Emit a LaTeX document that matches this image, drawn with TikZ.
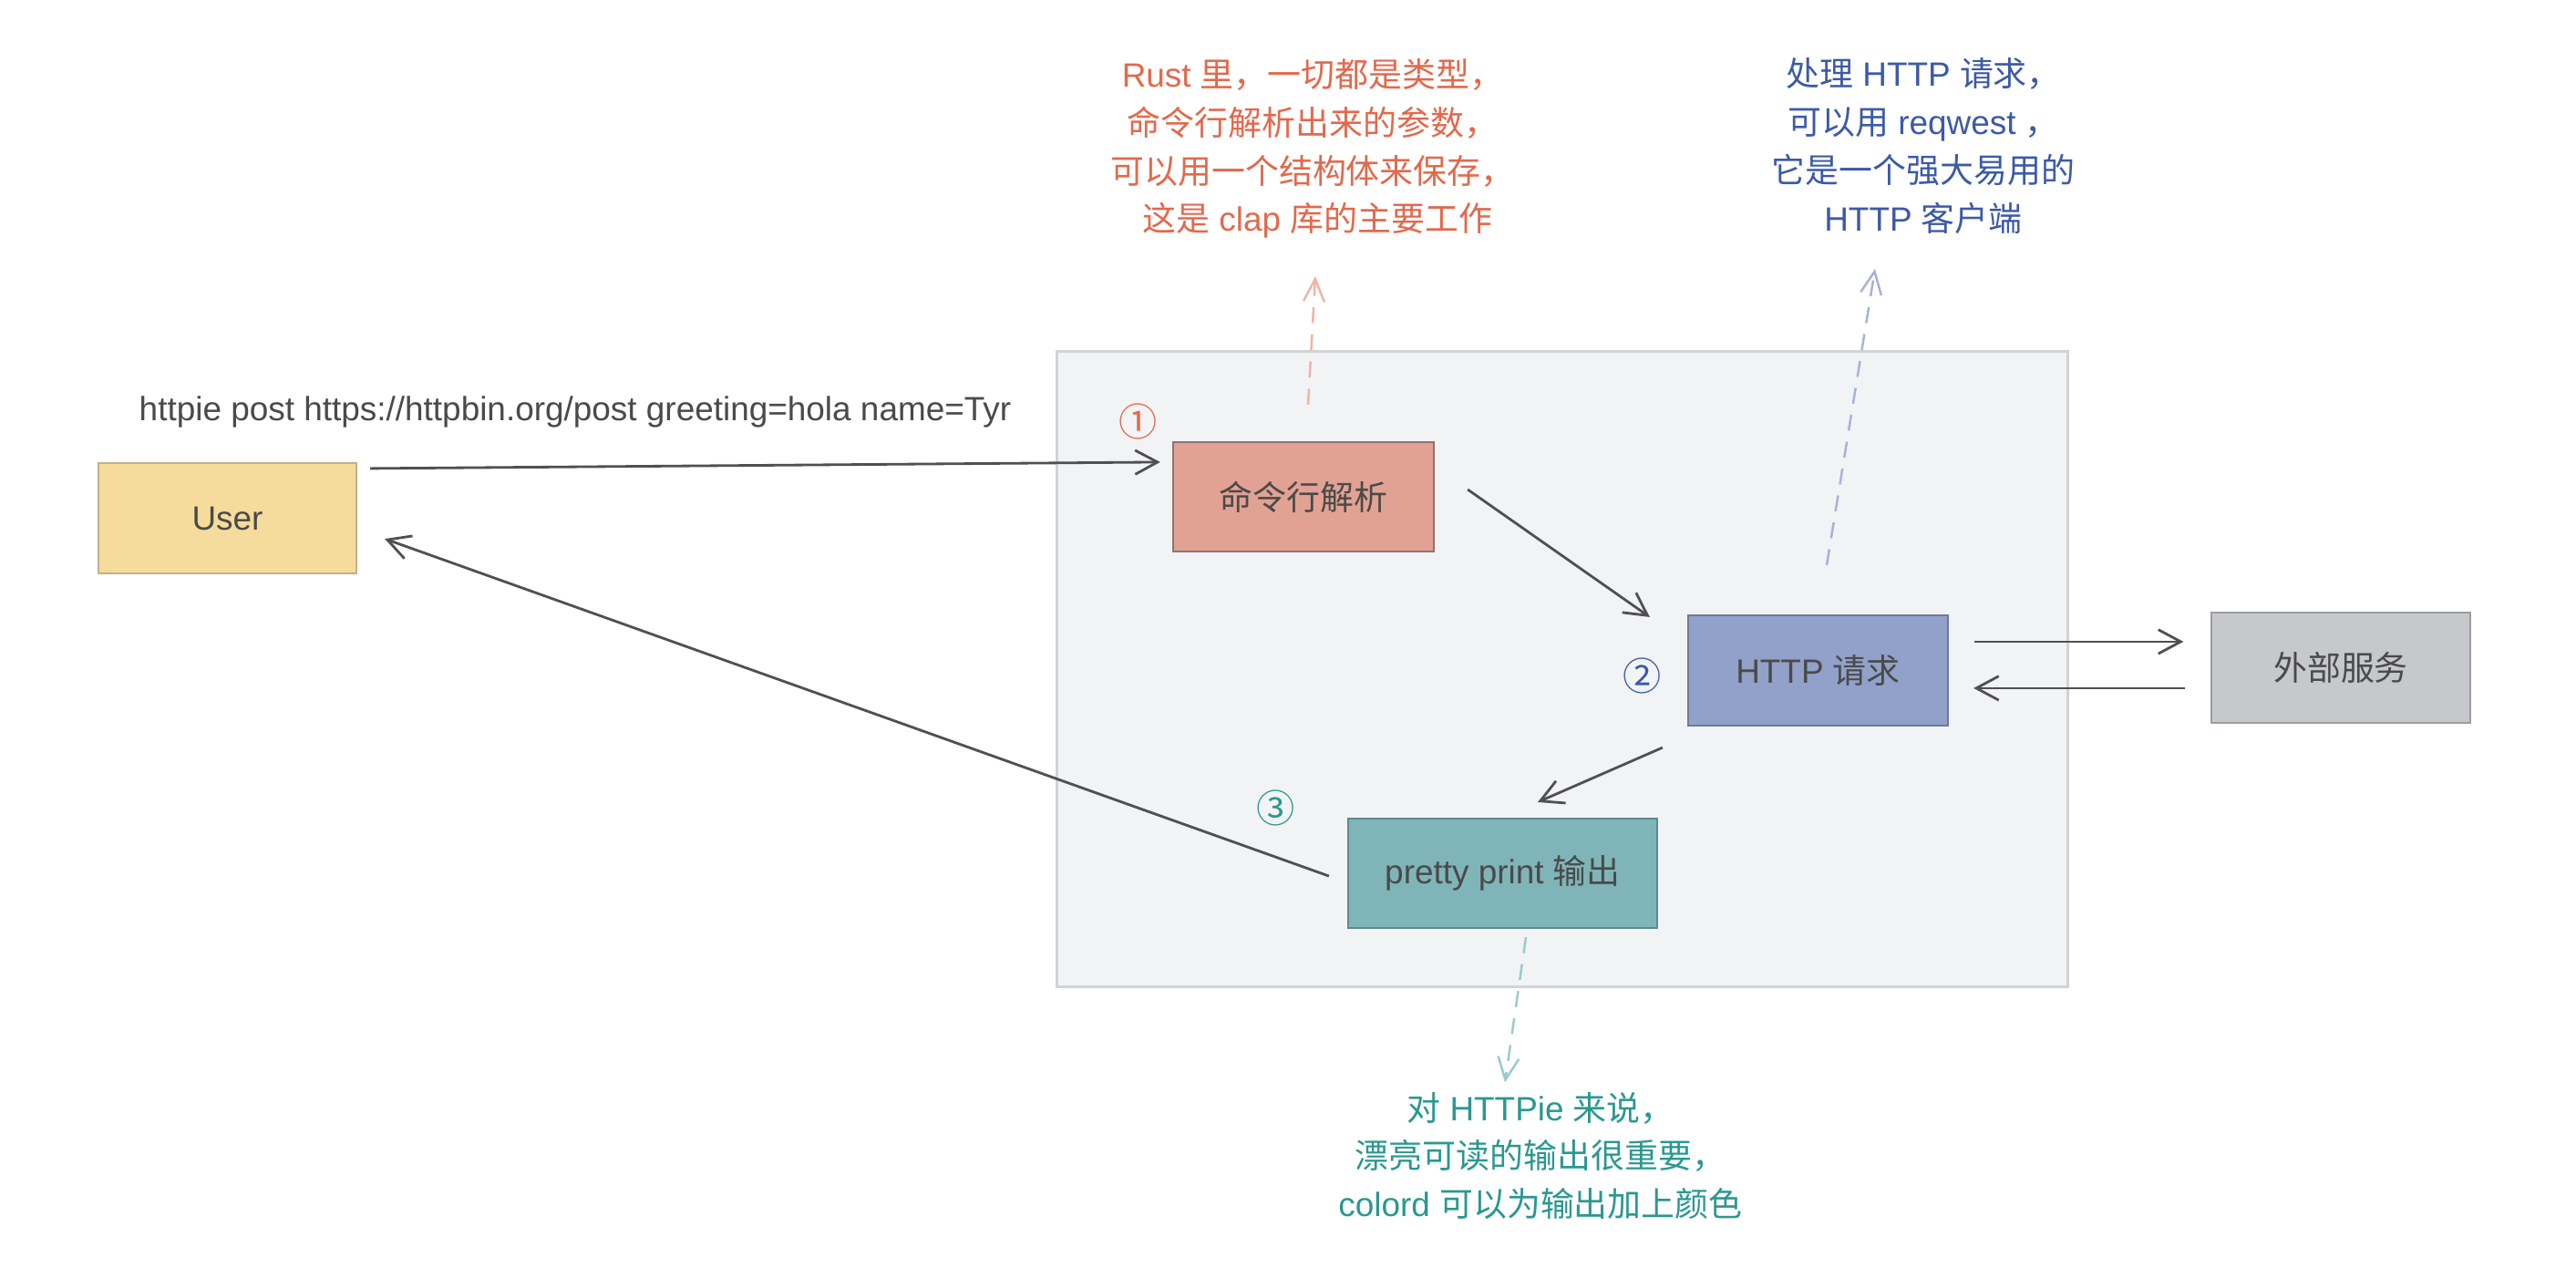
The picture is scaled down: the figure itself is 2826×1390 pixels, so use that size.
\documentclass[tikz,border=0pt]{standalone}
\usepackage{fontspec}
\setmainfont{Liberation Sans}
\newfontfamily\cjk{Noto Sans CJK SC}
\usetikzlibrary{arrows.meta,calc}
\definecolor{bgfill}{HTML}{F2F3F5}
\definecolor{bgline}{HTML}{D2D3D6}
\definecolor{userfill}{HTML}{F6DC9C}
\definecolor{userline}{HTML}{C2B08A}
\definecolor{cmdfill}{HTML}{E2A293}
\definecolor{cmdline}{HTML}{8E7570}
\definecolor{httpfill}{HTML}{91A1C9}
\definecolor{httpline}{HTML}{6E7A9C}
\definecolor{prettyfill}{HTML}{7FB5B8}
\definecolor{prettyline}{HTML}{5E8A8C}
\definecolor{extfill}{HTML}{C6C8CC}
\definecolor{extline}{HTML}{9C9DA1}
\definecolor{txt}{HTML}{4A4A4A}
\definecolor{orangetxt}{HTML}{E2694C}
\definecolor{bluetxt}{HTML}{3C5AA6}
\definecolor{tealtxt}{HTML}{2A9890}
\definecolor{orangedash}{HTML}{F2B3A5}
\definecolor{bluedash}{HTML}{A9B0D8}
\definecolor{tealdash}{HTML}{98CCC8}
\definecolor{arrowcol}{HTML}{505050}
\begin{document}
\begin{tikzpicture}[x=0.01cm,y=-0.01cm,
  every node/.style={font=\fontsize{10.5pt}{15pt}\selectfont, text=txt},
  box/.style={draw, line width=0.6pt, inner sep=0pt},
  flow/.style={draw=arrowcol, line width=0.8pt, -{Straight Barb[length=7pt,width=7.5pt,line width=0.8pt]}},
  dashnote/.style={line width=0.7pt, dash pattern=on 5pt off 3.5pt, -{Straight Barb[length=7pt,width=6.5pt,line width=0.7pt]}},
  note/.style={align=center, inner sep=0pt},
  num/.style={inner sep=0pt, font=\fontsize{12pt}{12pt}\cjk}
]
\useasboundingbox (0,0) rectangle (2826,1390);
\fill[white] (0,0) rectangle (2826,1390);
% background panel
\node[draw=bgline, fill=bgfill, line width=0.8pt, minimum width=11.08cm, minimum height=6.96cm, inner sep=0pt] (panel) at (1714,734) {};

% boxes
\node[box, draw=userline, fill=userfill, minimum width=2.83cm, minimum height=1.21cm] (user) at (249.5,568.5) {User};
\node[box, draw=cmdline, fill=cmdfill, minimum width=2.86cm, minimum height=1.20cm] (cmd) at (1430,545) {\cjk 命令行解析};
\node[box, draw=httpline, fill=httpfill, minimum width=2.85cm, minimum height=1.21cm] (http) at (1994.5,735.5) {HTTP {\cjk 请求}};
\node[box, draw=extline, fill=extfill, minimum width=2.83cm, minimum height=1.21cm] (ext) at (2568,732.5) {\cjk 外部服务};
\node[box, draw=prettyline, fill=prettyfill, minimum width=3.39cm, minimum height=1.20cm] (pretty) at (1648.5,958) {pretty print {\cjk 输出}};

% command label
\node[inner sep=0pt] (cmdline) at (631,452) {httpie post https://httpbin.org/post greeting=hola name=Tyr};

% step numbers
\node[num, text=orangetxt] (n1) at (1249,462) {①};
\node[num, text=bluetxt] (n2) at (1802,741) {②};
\node[num, text=tealtxt] (n3) at (1400,886) {③};

% notes
\node[note, text=orangetxt] (noteA) at (1440,163) {Rust {\cjk 里，一切都是类型，}\\{\cjk 命令行解析出来的参数，}\\{\cjk 可以用一个结构体来保存，}\\\ {\cjk 这是} clap {\cjk 库的主要工作}};
\node[note, text=bluetxt] (noteB) at (2110,160) {{\cjk 处理} HTTP {\cjk 请求，}\\{\cjk 可以用} reqwest {\cjk ，}\\{\cjk 它是一个强大易用的}\\HTTP {\cjk 客户端}};
\node[note, text=tealtxt] (noteC) at (1690,1268) {{\cjk 对} HTTPie {\cjk 来说，}\\{\cjk 漂亮可读的输出很重要，}\\colord {\cjk 可以为输出加上颜色}};

% flow connectors
\draw[flow] ($(user.north east)+(14,7)$) -- ($(cmd.north west)+(-13,23)$);
\draw[flow] ($(cmd.east)+(36,-8)$) -- ($(http.north west)+(-41,3)$);
\draw[flow] ($(http.north east)+(28,30)$) -- ($(ext.north west)+(-30,33)$);
\draw[flow] ($(ext.north west)+(-28,84)$) -- ($(http.north east)+(27,81)$);
\draw[flow] ($(http.south west)+(-27,23)$) -- ($(pretty.north)+(38.5,-17)$);
\draw[flow] ($(pretty.west)+(-20,3)$) -- ($(user.south east)+(30,-39)$);

% dashed note connectors
\draw[dashnote, draw=orangedash] ($(cmd.north)+(5,-40)$) -- ($(noteA.south)+(3,41)$);
\draw[dashnote, draw=bluedash] ($(http.north)+(9.5,-54)$) -- ($(noteB.south)+(-53,38)$);
\draw[dashnote, draw=tealdash] ($(pretty.south)+(25.5,9)$) -- ($(noteC.north)+(-39,-10)$);
\end{tikzpicture}
\end{document}
